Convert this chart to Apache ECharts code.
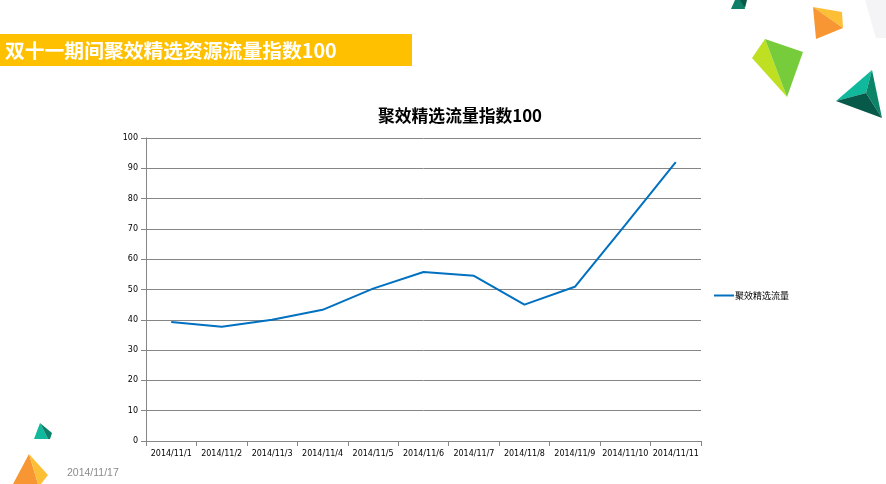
<!DOCTYPE html>
<html>
<head>
<meta charset="utf-8">
<style>
  html, body { margin: 0; padding: 0; background: #fff; }
  #main { width: 886px; height: 484px; }
</style>
<script src="https://cdn.jsdelivr.net/npm/echarts@6/dist/echarts.min.js"></script>
</head>
<body>
<div id="main"></div>
<script>
var categories = ['2014/11/1', '2014/11/2', '2014/11/3', '2014/11/4', '2014/11/5', '2014/11/6',
  '2014/11/7', '2014/11/8', '2014/11/9', '2014/11/10', '2014/11/11'];
var flowValues = [39.3, 37.7, 40, 43.3, 50.3, 55.8, 54.5, 45, 50.9, 71.3, 92];
var seriesName = '聚效精选流量';
var chartTitle = '聚效精选流量指数100';
var bannerTitle = '双十一期间聚效精选资源流量指数100';
var dateText = '2014/11/17';

var cjkFont = '"Noto Sans CJK SC", sans-serif';
var tickFont = '"DejaVu Sans", sans-serif';

// the little paper shapes around the slide
function poly(points, color) {
  return { type: 'polygon', silent: true, shape: { points: points }, style: { fill: color } };
}
var decorations = [
  poly([[865, 0], [886, 0], [886, 38], [876, 38]], '#f4f4f6'),
  poly([[731, 9], [735, 0], [743, 0], [745, 9]], '#0e7f68'),
  poly([[740, 0], [747, 0], [745, 8]], '#0b5a48'),
  poly([[813, 7], [842, 12], [843, 28]], '#fdbf36'),
  poly([[813, 7], [843, 28], [816, 39]], '#f79632'),
  poly([[765, 39], [787, 97], [752, 58]], '#bfdf22'),
  poly([[765, 39], [803, 52], [787, 97]], '#76cc3a'),
  poly([[872, 70], [836, 101], [866, 93]], '#10b89c'),
  poly([[872, 70], [866, 93], [882, 118]], '#0b8468'),
  poly([[836, 101], [866, 93], [882, 118]], '#07594a'),
  poly([[40, 423], [48, 439], [34, 439]], '#10b89c'),
  poly([[40, 423], [52, 433], [50, 439], [48, 439]], '#0b7f68'),
  poly([[29, 454], [13, 484], [38, 484]], '#f79632'),
  poly([[29, 454], [48, 475], [41, 484], [38, 484]], '#fdbf36')
];

var chart = echarts.init(document.getElementById('main'));

chart.setOption({
  backgroundColor: '#ffffff',
  animation: false,
  title: {
    text: chartTitle,
    left: 378,
    top: 107,
    padding: 0,
    textStyle: { fontFamily: cjkFont, fontSize: 16.8, fontWeight: 'bold', color: '#000' }
  },
  legend: {
    left: 714,
    top: 291,
    padding: 0,
    itemWidth: 20,
    itemHeight: 2,
    itemGap: 0,
    data: [{ name: seriesName, icon: 'rect' }],
    textStyle: { fontFamily: cjkFont, fontSize: 9, color: '#000', padding: [1, 0, 0, -4] }
  },
  grid: { left: 146, right: 185, top: 138, bottom: 43 },
  xAxis: {
    type: 'category',
    data: categories,
    boundaryGap: true,
    axisLine: { lineStyle: { color: '#868686', width: 1 } },
    axisTick: { show: true, length: 5, alignWithLabel: false, lineStyle: { color: '#868686' } },
    axisLabel: { interval: 0, fontFamily: tickFont, fontSize: 8, color: '#000', margin: 9 }
  },
  yAxis: {
    type: 'value',
    min: 0,
    max: 100,
    interval: 10,
    axisLine: { show: true, lineStyle: { color: '#868686', width: 1 } },
    axisTick: { show: true, length: 5, lineStyle: { color: '#868686' } },
    axisLabel: { fontFamily: tickFont, fontSize: 8, color: '#000', margin: 8, padding: [4, 0, 0, 0] },
    splitLine: { lineStyle: { color: '#868686', width: 1 } }
  },
  series: [{
    name: seriesName,
    type: 'line',
    data: flowValues,
    symbol: 'none',
    smooth: false,
    lineStyle: { color: '#0070c0', width: 2 },
    itemStyle: { color: '#0070c0' }
  }],
  graphic: decorations.concat([
    { type: 'rect', silent: true, shape: { x: 0, y: 34, width: 412, height: 32 }, style: { fill: '#ffc000' } },
    {
      type: 'text', silent: true, x: 5, y: 50,
      style: {
        text: bannerTitle, fill: '#fff', font: 'bold 19.8px ' + cjkFont,
        textAlign: 'left', textVerticalAlign: 'middle'
      }
    },
    {
      type: 'text', silent: true, x: 67, y: 473,
      style: {
        text: dateText, fill: '#8b8b8b', font: '10.5px "Liberation Sans", sans-serif',
        textAlign: 'left', textVerticalAlign: 'middle'
      }
    }
  ])
});
</script>
</body>
</html>
